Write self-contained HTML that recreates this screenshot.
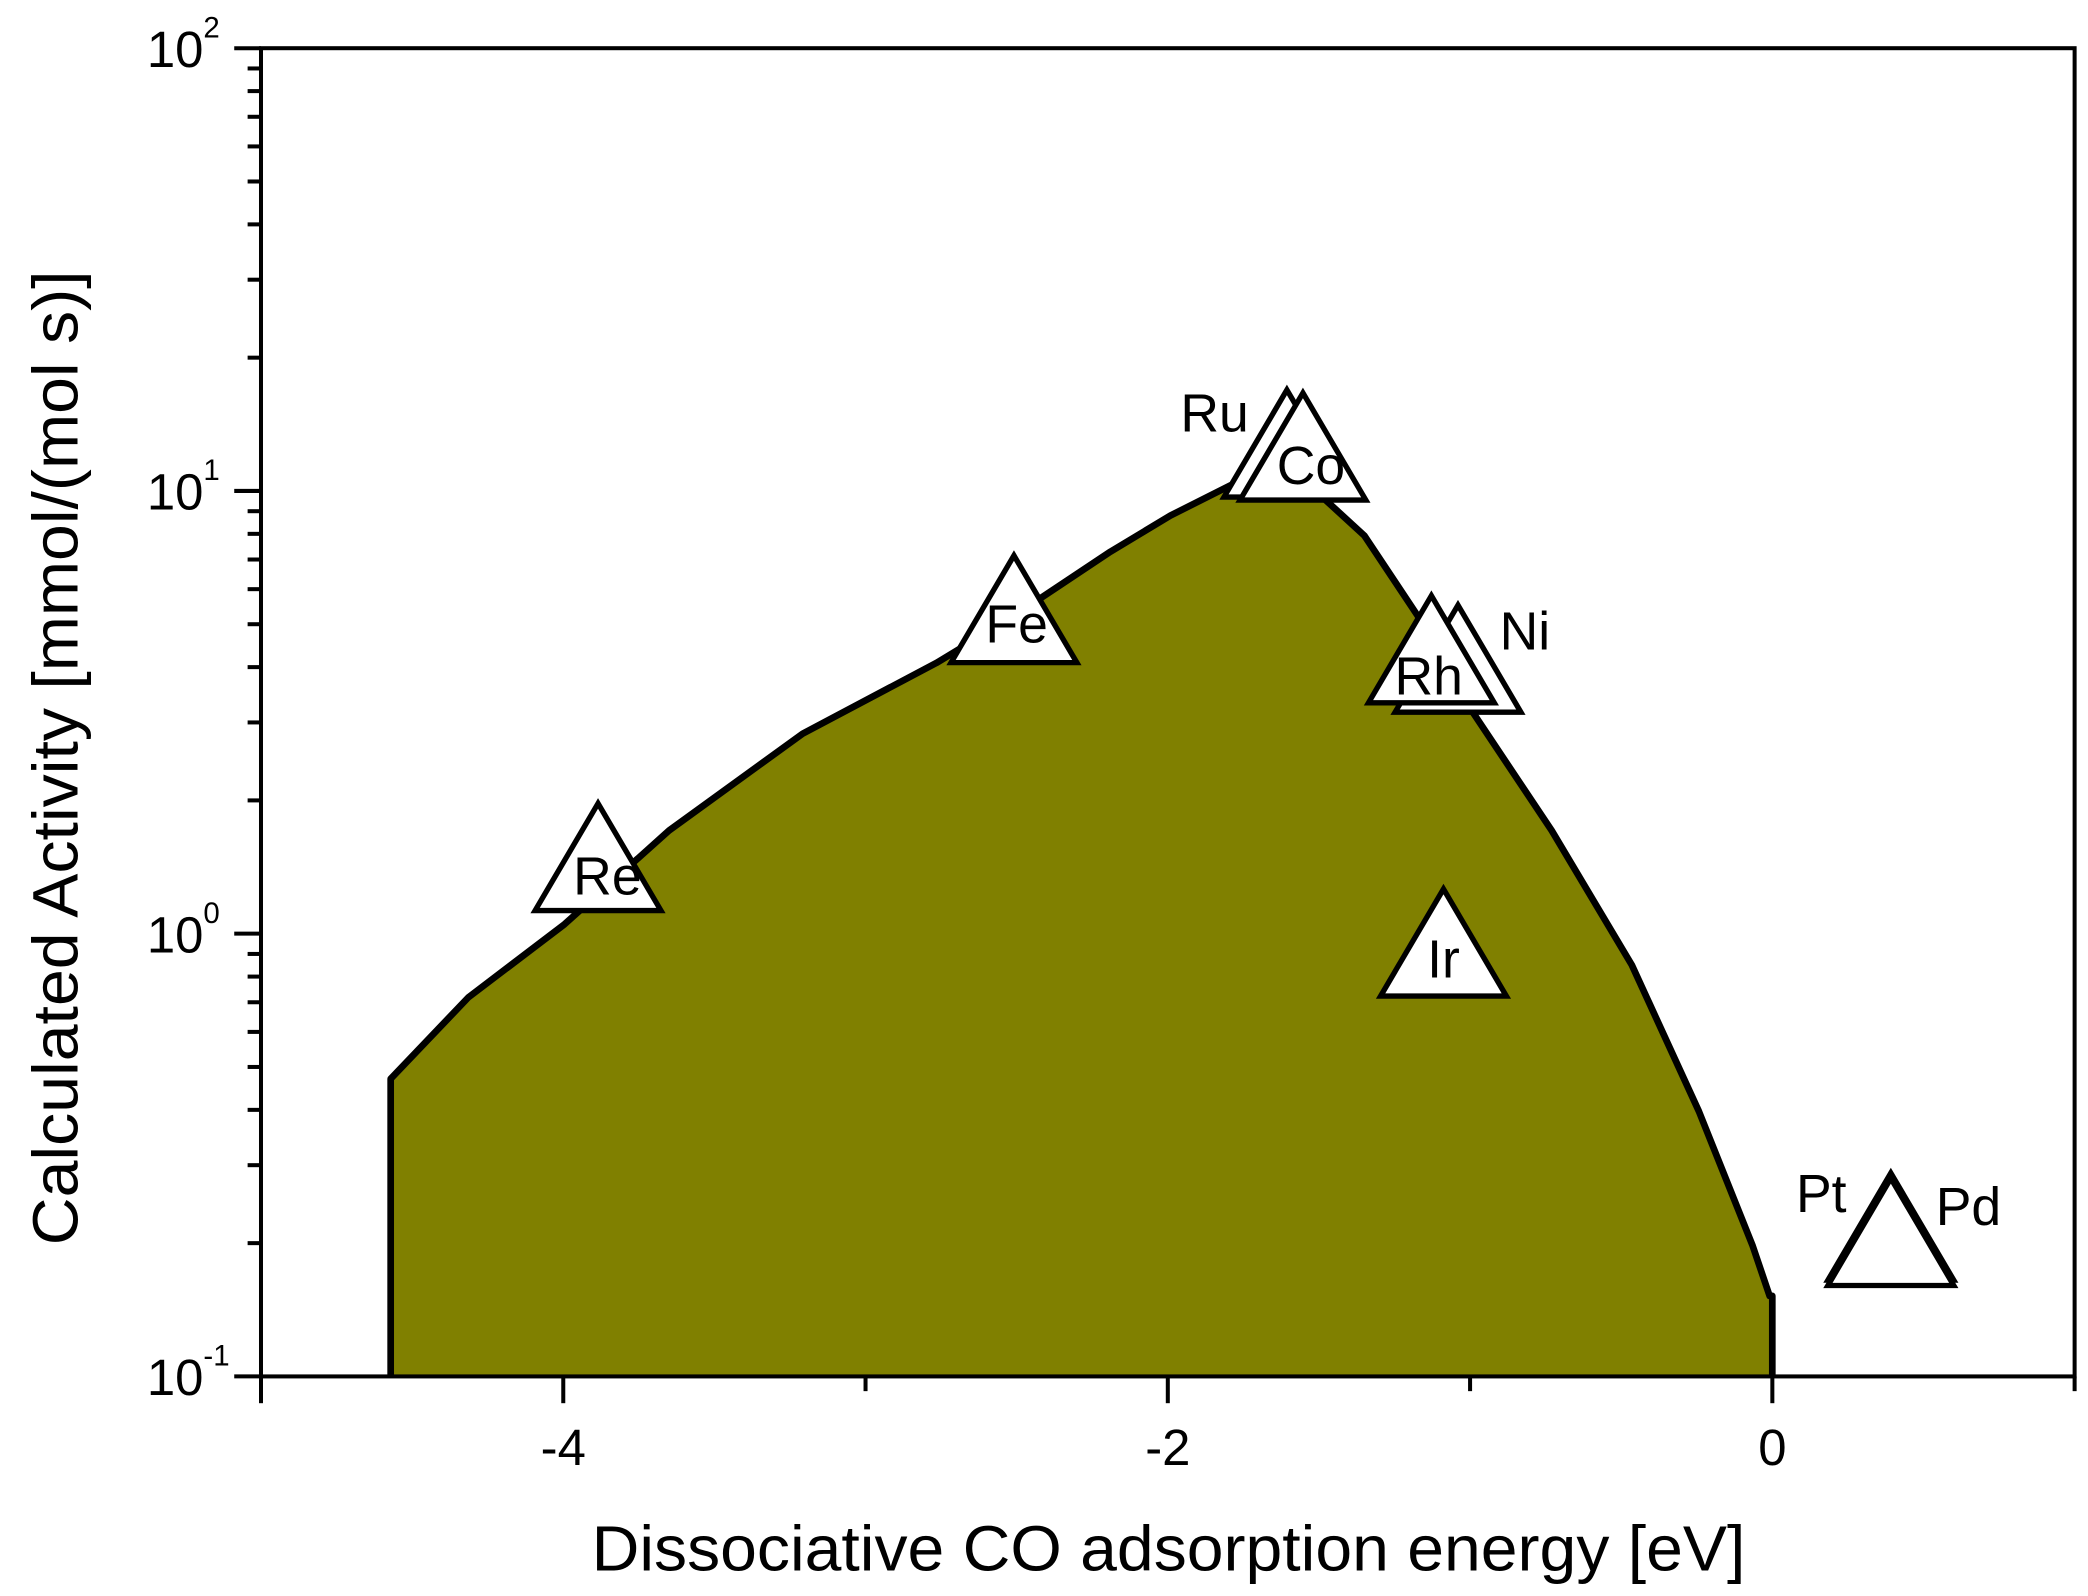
<!DOCTYPE html>
<html><head><meta charset="utf-8"><style>
html,body{margin:0;padding:0;background:#fff;}
svg{display:block;}
text{font-family:"Liberation Sans",Arial,sans-serif;fill:#000;}
</style></head><body>
<svg id="chart" width="2088" height="1596" viewBox="0 0 1560 1192" preserveAspectRatio="none" xmlns="http://www.w3.org/2000/svg">
<g id="fillLayer"></g>
<g id="frame"></g>
<g id="markers"></g>
<g id="axes"></g>
<text x="873" y="1173" font-size="48" text-anchor="middle" textLength="862" lengthAdjust="spacingAndGlyphs">Dissociative CO adsorption energy [eV]</text>
<text transform="translate(58,566) rotate(-90)" font-size="48" text-anchor="middle" textLength="728" lengthAdjust="spacingAndGlyphs">Calculated Activity [mmol/(mol s)]</text>
</svg>
<script>
const curveX = [-4.571,-4.314,-3.996,-3.650,-3.208,-2.765,-2.509,-2.190,-1.991,-1.792,-1.650,-1.504,-1.350,-1.173,-0.996,-0.730,-0.465,-0.243,-0.066,-0.009];
const curveY = [0.47,0.718,1.05,1.71,2.83,4.09,5.22,7.29,8.8,10.3,10.6,9.9,7.93,5.22,3.2,1.71,0.85,0.397,0.198,0.152];
const metals = ["Re","Fe","Ru","Co","Ni","Rh","Ir","Pt","Pd"];
const metalX = [-3.885,-2.509,-1.606,-1.553,-1.04,-1.128,-1.088,0.392,0.392];
const metalY = [1.49,5.41,12.8,12.6,4.18,4.39,0.955,0.218,0.212];
const xTicks = [-4,-2,0];
const xMinor = [-5,-3,-1,1];
const yDecades = [-1,0,1,2];

const NS="http://www.w3.org/2000/svg";
const L=195,R=1550,T=36,B=1028;
const xMin=-5,xMax=1,yMinExp=-1,yMaxExp=2;
function sx(v){return L+(v-xMin)/(xMax-xMin)*(R-L);}
function sy(v){return B-(Math.log10(v)-yMinExp)/(yMaxExp-yMinExp)*(B-T);}
function mk(tag,attrs,parent){const e=document.createElementNS(NS,tag);for(const k in attrs)e.setAttribute(k,attrs[k]);parent.appendChild(e);return e;}

const fl=document.getElementById('fillLayer');
let d="M"+sx(curveX[0])+","+B;
for(let i=0;i<curveX.length;i++) d+=" L"+sx(curveX[i])+","+sy(curveY[i]);
const lastX=sx(curveX[curveX.length-1])+2;
d+=" L"+lastX+","+sy(curveY[curveY.length-1])+" L"+lastX+","+B+" Z";
const area=mk('path',{d:d,fill:'#808000',stroke:'none'},fl);


let ld="M"+sx(curveX[0])+","+B;
for(let i=0;i<curveX.length;i++) ld+=" L"+sx(curveX[i])+","+sy(curveY[i]);
ld+=" L"+lastX+","+sy(curveY[curveY.length-1])+" L"+lastX+","+B;
const line=mk('path',{d:ld,fill:'none',stroke:'#000','stroke-width':5,'stroke-linejoin':'round'},fl);



const fr=document.getElementById('frame');
const rect=mk('rect',{x:L,y:T,width:R-L,height:B-T,fill:'none',stroke:'#000','stroke-width':3},fr);



const mg=document.getElementById('markers');
const labelOff={Re:[7,28],Fe:[2,25],Ru:[-54,-9],Co:[6,28],Ni:[50,-7],Rh:[-2,34],Ir:[0,26],Pt:[-52,-11],Pd:[58,-5]};
const W=47,H=40;
for(let i=0;i<metals.length;i++){
  const cx=sx(metalX[i]),cy=sy(metalY[i]);
  const tri=mk('polygon',{points:(cx)+","+(cy-H)+" "+(cx-W)+","+(cy+H)+" "+(cx+W)+","+(cy+H),fill:'#fff',stroke:'#000','stroke-width':4,'stroke-linejoin':'miter'},mg);
  
  
}
for(let i=0;i<metals.length;i++){
  const cx=sx(metalX[i]),cy=sy(metalY[i]);
  const o=labelOff[metals[i]];
  const t=mk('text',{x:cx+o[0],y:cy+o[1],'font-size':40,'text-anchor':'middle'},mg);
  t.textContent=metals[i];
  
  
}

const ax=document.getElementById('axes');
xTicks.forEach(v=>{
  const x=sx(v);
  const tk=mk('line',{x1:x,y1:B,x2:x,y2:B+20,stroke:'#000','stroke-width':3},ax);
  
  
  const lb=mk('text',{x:x,y:B+66,'font-size':38,'text-anchor':'middle'},ax);
  lb.textContent=String(v);
  
  
});
xMinor.forEach(v=>{
  const x=sx(v);
  const tk=mk('line',{x1:x,y1:B,x2:x,y2:B+(v===xMin?20:11),stroke:'#000','stroke-width':3},ax);
  
  
});
yDecades.forEach(e=>{
  const y=sy(Math.pow(10,e));
  const tk=mk('line',{x1:L-20,y1:y,x2:L,y2:y,stroke:'#000','stroke-width':3},ax);
  
  
  const lb=mk('text',{x:152,y:y+14,'font-size':38,'text-anchor':'end'},ax);
  lb.textContent="10";
  
  
  const sp=mk('text',{x:152,y:y-8,'font-size':22,'text-anchor':'start'},ax);
  sp.textContent=String(e);
  
  
  if(e<yMaxExp){
    for(let m=2;m<=9;m++){
      const yy=sy(m*Math.pow(10,e));
      const mt=mk('line',{x1:L-10,y1:yy,x2:L,y2:yy,stroke:'#000','stroke-width':3},ax);
      
      
    }
  }
});
</script>
</body></html>
